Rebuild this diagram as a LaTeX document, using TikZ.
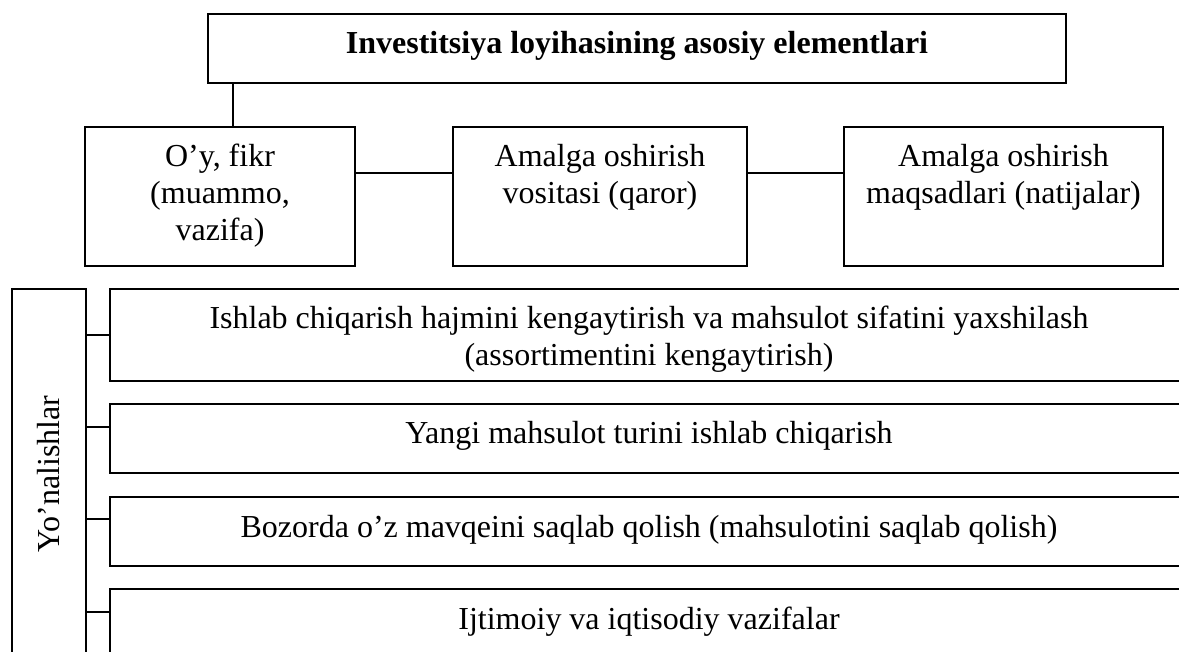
\documentclass[tikz,border=0pt]{standalone}
\usepackage{fontspec}
\setmainfont{Liberation Serif}
\newdimen\pxu \pxu=0.75pt
\newcommand\bxtext[3]{\parbox[t][#2\pxu][t]{#1\pxu}{\centering\vspace*{10.575pt}\strut #3\par}}
\tikzset{
  boxnode/.style={draw=black, line width=1pt, inner sep=0pt, outer sep=0pt, anchor=north west},
  conn/.style={draw=black, line width=1pt},
}
\begin{document}
\begin{tikzpicture}[x=0.75pt, y=-0.75pt, font=\fontsize{24}{27.75}\selectfont]
\useasboundingbox (0,0) rectangle (1179,652);
\clip (0,0) rectangle (1179,652);
% top title
\node[boxnode] (title) at (208,14) {\bxtext{858}{69}{\bfseries Investitsiya loyihasining asosiy elementlari}};
% three element boxes
\node[boxnode] (b1) at (85,127) {\bxtext{270}{139}{O’y, fikr\\(muammo,\\vazifa)}};
\node[boxnode] (b2) at (453,127) {\bxtext{294}{139}{Amalga oshirish\\vositasi (qaror)}};
\node[boxnode] (b3) at (844,127) {\bxtext{319}{139}{Amalga oshirish\\maqsadlari (natijalar)}};
% directions
\node[draw=black, line width=1pt, inner sep=0pt, rotate=90, minimum width=370\pxu, minimum height=74\pxu] (yon) at (49,474) {Yo’nalishlar};
\node[boxnode] (ra) at (110,289) {\bxtext{1078}{92}{Ishlab chiqarish hajmini kengaytirish va mahsulot sifatini yaxshilash\\(assortimentini kengaytirish)}};
\node[boxnode] (rb) at (110,404) {\bxtext{1078}{69}{Yangi mahsulot turini ishlab chiqarish}};
\node[boxnode] (rc) at (110,497) {\bxtext{1078}{69}{Bozorda o’z mavqeini saqlab qolish (mahsulotini saqlab qolish)}};
\node[boxnode] (rd) at (110,589) {\bxtext{1078}{69}{Ijtimoiy va iqtisodiy vazifalar}};
% connectors
\coordinate (cx) at (233,0);
\coordinate (cy) at (0,173);
\draw[conn] (cx |- title.south) -- (cx |- b1.north);
\draw[conn] (b1.east |- cy) -- (b2.west |- cy);
\draw[conn] (b2.east |- cy) -- (b3.west |- cy);
\coordinate (t1) at (86,335);
\coordinate (t2) at (86,427);
\coordinate (t3) at (86,519);
\coordinate (t4) at (86,612);
\draw[conn] (t1) -- (t1 -| ra.west);
\draw[conn] (t2) -- (t2 -| rb.west);
\draw[conn] (t3) -- (t3 -| rc.west);
\draw[conn] (t4) -- (t4 -| rd.west);
\end{tikzpicture}
\end{document}
